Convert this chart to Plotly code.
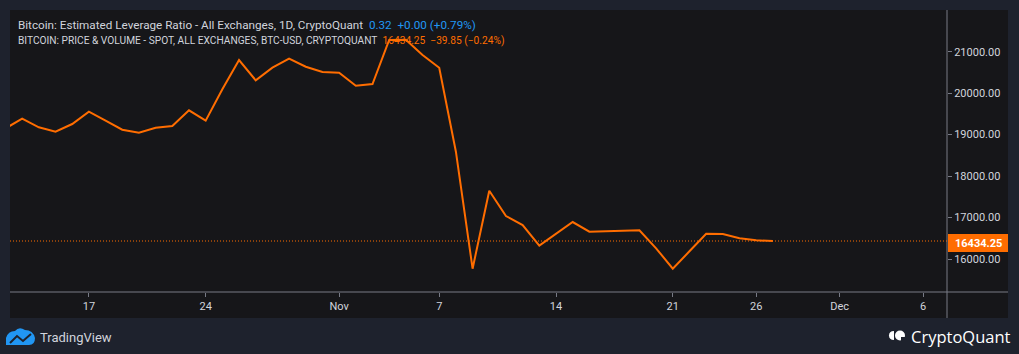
import plotly.graph_objects as go
import pandas as pd

# ---------------- data ----------------
dates = pd.date_range("2022-10-12", "2022-11-27", freq="D")
prices = [19150, 19384, 19177, 19070, 19256, 19553, 19336, 19119, 19046, 19167,
          19208, 19587, 19336, 20093, 20800, 20310, 20614, 20831, 20638, 20510,
          20494, 20180, 20221, 21282, 21290, 20920, 20614, 18588, 15766, 17647,
          17037, 16820, 16321, 16615, 16892, 16658, 16675, 16692, 16692, 16258,
          15766, 16186, 16610, 16603, 16499, 16451, 16434.25]
last_price = 16434.25
x_tick_vals = ["2022-10-17", "2022-10-24", "2022-11-01", "2022-11-07", "2022-11-14",
               "2022-11-21", "2022-11-26", "2022-12-01", "2022-12-06"]
x_tick_text = ["17", "24", "Nov", "7", "14", "21", "26", "Dec", "6"]
y_tick_vals = [16000, 17000, 18000, 19000, 20000, 21000]

# ---------------- styling ----------------
W, H = 1019, 354
L, R, T, B = 10, 947, 10, 292          # plot area in pixels
OUTER = "#1e222d"
INNER = "#161619"
ORANGE = "#ff6d00"
BLUE = "#2196f3"
TXT = "#d1d4dc"
AXIS = "#787b86"
FONT = "Roboto"


def px(xp):
    return (xp - L) / (R - L)


def py(yp):
    return (B - yp) / (B - T)


def P(xp, yp):
    return f"{px(xp):.5f},{py(yp):.5f}"


fig = go.Figure()
fig.add_trace(go.Scatter(x=dates, y=prices, mode="lines",
                         line=dict(color=ORANGE, width=2), hoverinfo="skip",
                         showlegend=False, cliponaxis=True))

shapes = [
    # inner panel
    dict(type="rect", xref="paper", yref="paper", x0=px(10), x1=px(1008), y0=py(318), y1=py(10),
         fillcolor=INNER, line=dict(width=0), layer="below"),
    # axes frame lines
    dict(type="line", xref="paper", yref="paper", x0=px(10), x1=px(1008), y0=0, y1=0,
         line=dict(color=AXIS, width=1)),
    dict(type="line", xref="paper", yref="paper", x0=1, x1=1, y0=py(318), y1=py(10),
         line=dict(color=AXIS, width=1)),
    # last price dotted line
    dict(type="line", xref="paper", yref="y", x0=0, x1=1, y0=last_price, y1=last_price,
         line=dict(color=ORANGE, width=1, dash="1px,2px")),
    # last price label box
    dict(type="rect", xref="paper", yref="paper", x0=px(948), x1=px(1008),
         y0=py(252), y1=py(234), fillcolor=ORANGE, line=dict(width=0)),
]

annotations = [
    dict(xref="paper", yref="paper", x=px(16), y=py(25), xanchor="left", yanchor="middle",
         showarrow=False, font=dict(family=FONT, size=11.7, color=TXT),
         text="Bitcoin: Estimated Leverage Ratio - All Exchanges, 1D, CryptoQuant"
              f"\u00a0\u00a0<span style='color:{BLUE}'>0.32\u00a0\u00a0+0.00 (+0.79%)</span>"),
    dict(xref="paper", yref="paper", x=px(16), y=py(41), xanchor="left", yanchor="middle",
         showarrow=False, font=dict(family=FONT, size=10.2, color=TXT),
         text="BITCOIN: PRICE &amp; VOLUME - SPOT, ALL EXCHANGES, BTC-USD, CRYPTOQUANT"
              f"\u00a0\u00a0<span style='color:{ORANGE}'>16434.25\u00a0\u00a0\u221239.85 (\u22120.24%)</span>"),
    # price label text
    dict(xref="paper", yref="paper", x=px(978), y=py(243), xanchor="center", yanchor="middle",
         showarrow=False, text="<b>16434.25</b>",
         font=dict(family=FONT, size=11, color="#ffffff")),
    # footer logos
    dict(xref="paper", yref="paper", x=px(38), y=py(337), xanchor="left", yanchor="middle",
         showarrow=False, text="TradingView", font=dict(family=FONT, size=13, color=TXT)),
    dict(xref="paper", yref="paper", x=px(1013), y=py(336), xanchor="right", yanchor="middle",
         showarrow=False, text="CryptoQuant", font=dict(family="Open Sans", size=16.5, color="#ffffff")),
]

# TradingView cloud icon (blue)
tv_icon = ("M " + P(6, 345) + " L " + P(6, 338) + " Q " + P(8, 331) + " " + P(15, 331)
           + " Q " + P(19, 326) + " " + P(25, 330) + " Q " + P(33, 330) + " " + P(35, 338)
           + " Q " + P(35, 345) + " " + P(29, 345) + " Z")
shapes.append(dict(type="path", xref="paper", yref="paper", path=tv_icon,
                   fillcolor=BLUE, line=dict(width=0)))
shapes.append(dict(type="path", xref="paper", yref="paper",
                   path="M " + P(10, 343) + " L " + P(17, 336) + " L " + P(23, 341) + " L " + P(31, 334),
                   line=dict(color=OUTER, width=2)))
# CryptoQuant icon (white): half disc + notched disc
shapes.append(dict(type="path", xref="paper", yref="paper",
                   path="M " + P(894, 331) + " Q " + P(889, 331) + " " + P(889, 335.5)
                        + " Q " + P(889, 340) + " " + P(894, 340) + " Z",
                   fillcolor="#ffffff", line=dict(width=0)))
shapes.append(dict(type="circle", xref="paper", yref="paper", x0=px(895), x1=px(905),
                   y0=py(340.5), y1=py(330.5), fillcolor="#ffffff", line=dict(width=0)))
shapes.append(dict(type="rect", xref="paper", yref="paper", x0=px(901), x1=px(906),
                   y0=py(341), y1=py(337), fillcolor=OUTER, line=dict(width=0)))

fig.update_layout(
    width=W, height=H,
    margin=dict(l=L, r=W - R, t=T, b=H - B, pad=0),
    paper_bgcolor=OUTER, plot_bgcolor=INNER,
    shapes=shapes, annotations=annotations,
    xaxis=dict(type="date", range=["2022-10-12 06:30", "2022-12-07 10:30"],
               tickvals=x_tick_vals, ticktext=x_tick_text, showgrid=False, zeroline=False,
               showline=False, ticks="outside", ticklen=4, tickcolor=AXIS,
               tickfont=dict(family=FONT, size=11, color=TXT), fixedrange=True),
    yaxis=dict(side="right", range=[15204, 22006], tickvals=y_tick_vals, tickformat=".2f",
               showgrid=False, zeroline=False, showline=False, ticks="outside", ticklen=4,
               tickcolor=AXIS, tickfont=dict(family=FONT, size=11, color=TXT), fixedrange=True),
    font=dict(family=FONT),
)

fig.write_html("out.html")
